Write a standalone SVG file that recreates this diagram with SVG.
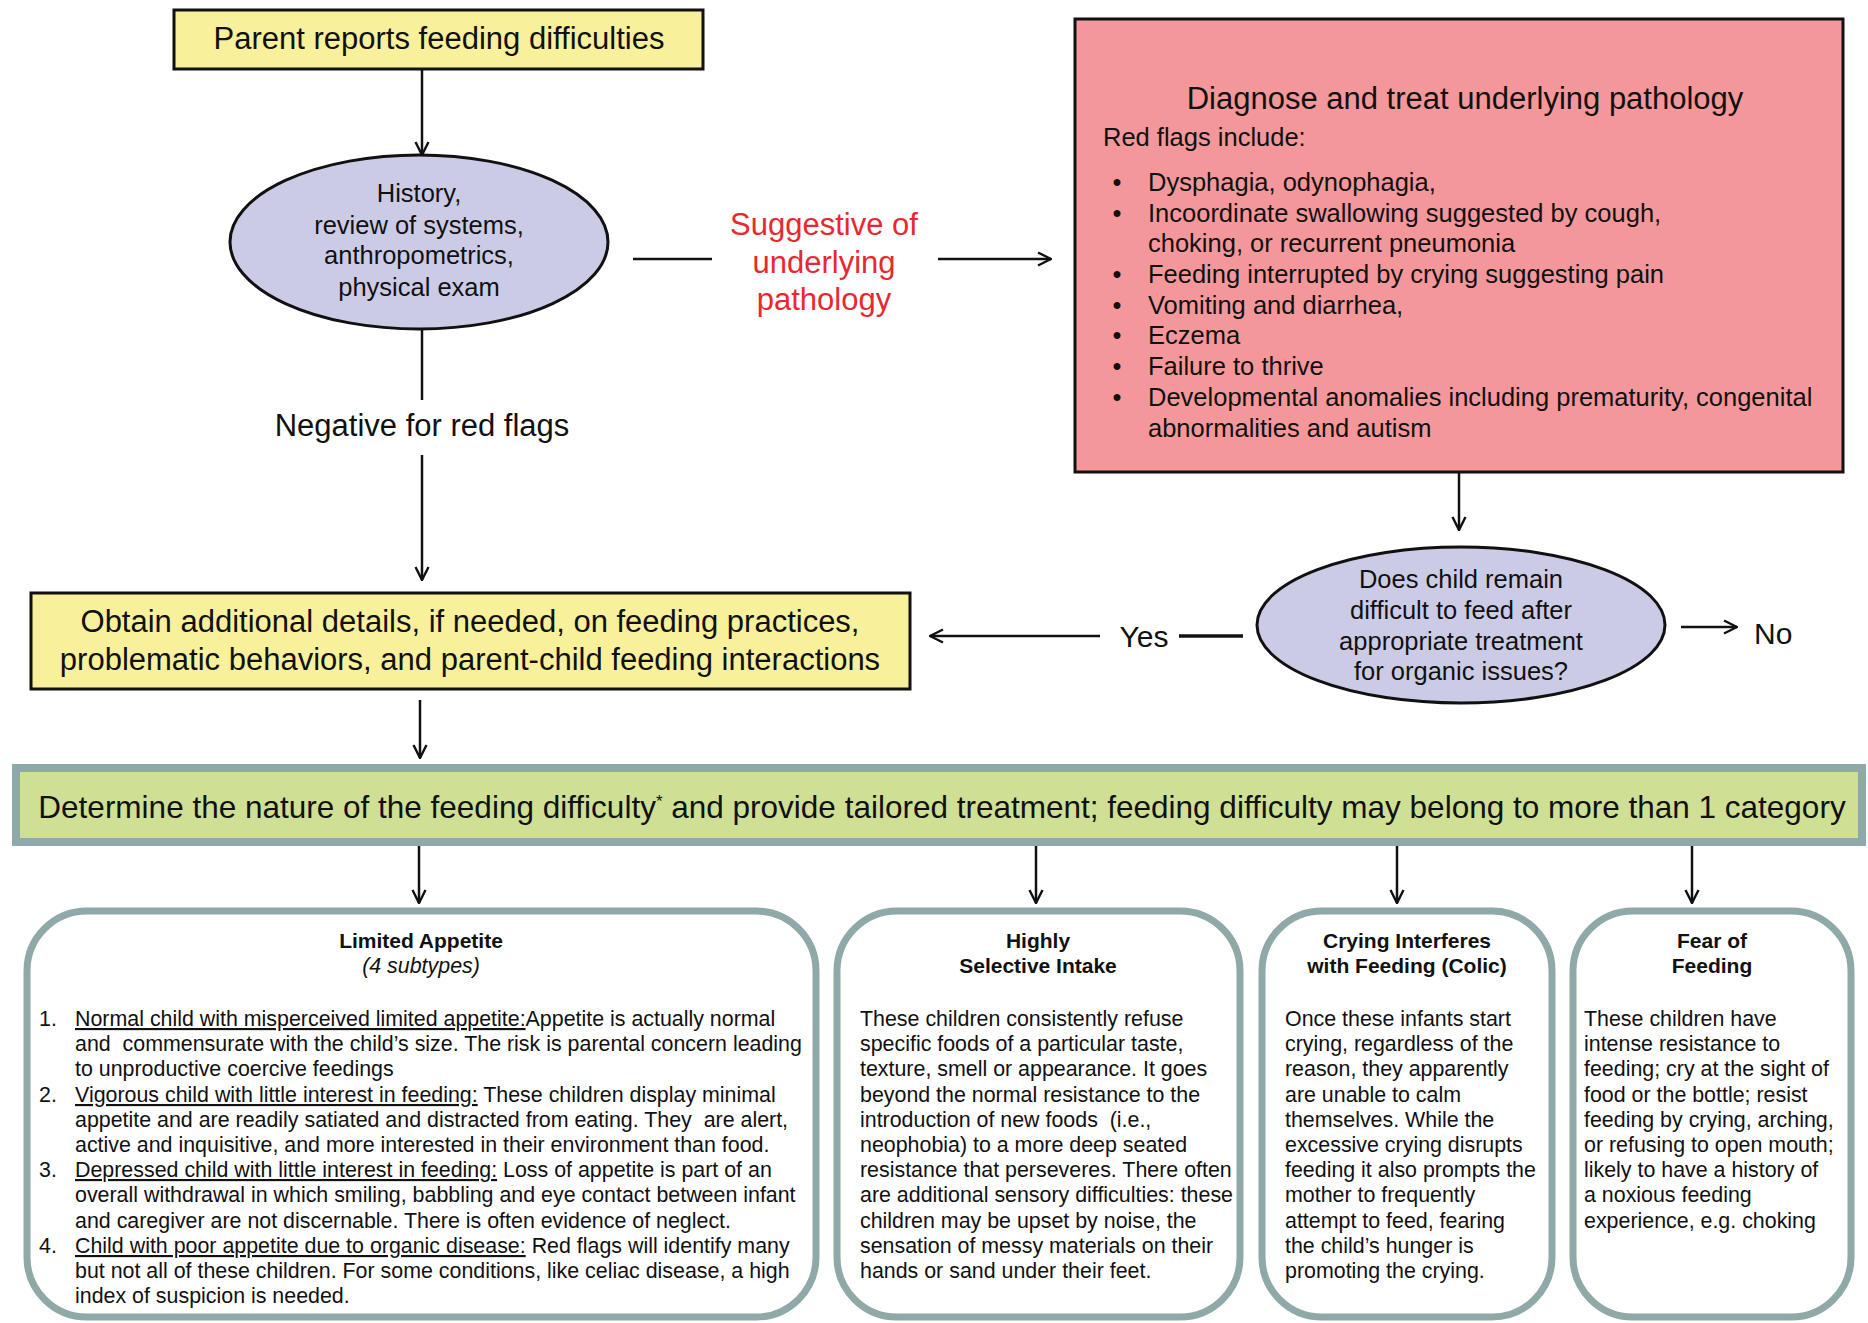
<svg xmlns="http://www.w3.org/2000/svg" width="1868" height="1323" viewBox="0 0 1868 1323">
<style>
text{font-family:"Liberation Sans",Arial,sans-serif;fill:#111;white-space:pre}
.big{font-size:31px}
.mid{font-size:25.5px}
.body{font-size:21.4px}
.ttl{font-size:21px;font-weight:bold}
.c{text-anchor:middle}
.red{fill:#e8282e}
.u{text-decoration:underline}
.yel{fill:#f8f09b;stroke:#111;stroke-width:3}
.lav{fill:#cccbe6;stroke:#111;stroke-width:3}
.cat{fill:#fff;stroke:#8fa8a8;stroke-width:7}
.ln{stroke:#111;stroke-width:2.5;fill:none}
.arw{stroke:#111;stroke-width:2.5;fill:none;marker-end:url(#arr)}
</style>
<defs>
<marker id="arr" viewBox="0 0 16 16" refX="15" refY="8" markerWidth="16" markerHeight="16" markerUnits="userSpaceOnUse" orient="auto">
<path d="M2,1.5 L15,8 L2,14.5" fill="none" stroke="#111" stroke-width="2.4"/>
</marker>
</defs>
<rect width="1868" height="1323" fill="#fff"/>

<g id="connectors">
<line class="arw" x1="422" y1="69" x2="422" y2="155"/>
<line class="ln" x1="422" y1="329" x2="422" y2="400"/>
<line class="arw" x1="422" y1="455" x2="422" y2="580"/>
<line class="ln" x1="633" y1="259" x2="712" y2="259"/>
<line class="arw" x1="938" y1="259" x2="1051" y2="259"/>
<line class="arw" x1="1459" y1="472" x2="1459" y2="530"/>
<line class="ln" x1="1179" y1="636" x2="1243" y2="636" style="stroke-width:3.5"/>
<line class="arw" x1="1100" y1="636" x2="930" y2="636"/>
<line class="arw" x1="1681" y1="627" x2="1737" y2="627"/>
<line class="arw" x1="420" y1="700" x2="420" y2="758"/>
<line class="arw" x1="419" y1="846" x2="419" y2="903"/>
<line class="arw" x1="1036" y1="846" x2="1036" y2="903"/>
<line class="arw" x1="1397" y1="846" x2="1397" y2="903"/>
<line class="arw" x1="1692" y1="846" x2="1692" y2="903"/>
<text class="big c" x="422" y="436">Negative for red flags</text>
<text class="big c red" x="824" y="235">Suggestive of</text>
<text class="big c red" x="824" y="273">underlying</text>
<text class="big c red" x="824" y="310">pathology</text>
<text class="big c" x="1144" y="647" style="font-size:30px">Yes</text>
<text class="big" x="1754" y="644" style="font-size:30px">No</text>
</g>

<g id="parent-reports">
<rect class="yel" x="174" y="10" width="529" height="59"/>
<text class="big c" x="439" y="49">Parent reports feeding difficulties</text>
</g>

<g id="history">
<ellipse class="lav" cx="419" cy="242" rx="189" ry="87"/>
<text class="mid c" x="419" y="202">History,</text>
<text class="mid c" x="419" y="234">review of systems,</text>
<text class="mid c" x="419" y="264">anthropometrics,</text>
<text class="mid c" x="419" y="296">physical exam</text>
</g>

<g id="diagnose">
<rect x="1075" y="19" width="768" height="453" fill="#f4979a" stroke="#111" stroke-width="3"/>
<text class="big c" x="1465" y="109">Diagnose and treat underlying pathology</text>
<text class="mid" x="1103" y="146">Red flags include:</text>
<text class="mid c" x="1117" y="191">•</text><text class="mid" x="1148" y="191">Dysphagia, odynophagia,</text>
<text class="mid c" x="1117" y="222">•</text><text class="mid" x="1148" y="222">Incoordinate swallowing suggested by cough,</text>
<text class="mid" x="1148" y="252">choking, or recurrent pneumonia</text>
<text class="mid c" x="1117" y="283">•</text><text class="mid" x="1148" y="283">Feeding interrupted by crying suggesting pain</text>
<text class="mid c" x="1117" y="314">•</text><text class="mid" x="1148" y="314">Vomiting and diarrhea,</text>
<text class="mid c" x="1117" y="344">•</text><text class="mid" x="1148" y="344">Eczema</text>
<text class="mid c" x="1117" y="375">•</text><text class="mid" x="1148" y="375">Failure to thrive</text>
<text class="mid c" x="1117" y="406">•</text><text class="mid" x="1148" y="406">Developmental anomalies including prematurity, congenital</text>
<text class="mid" x="1148" y="437">abnormalities and autism</text>
</g>

<g id="remain-difficult">
<ellipse class="lav" cx="1461" cy="625" rx="204" ry="78"/>
<text class="mid c" x="1461" y="588">Does child remain</text>
<text class="mid c" x="1461" y="619">difficult to feed after</text>
<text class="mid c" x="1461" y="650">appropriate treatment</text>
<text class="mid c" x="1461" y="680">for organic issues?</text>
</g>

<g id="obtain-details">
<rect class="yel" x="31" y="593" width="879" height="96"/>
<text class="big c" x="470" y="632">Obtain additional details, if needed, on feeding practices,</text>
<text class="big c" x="470" y="670">problematic behaviors, and parent-child feeding interactions</text>
</g>

<g id="determine">
<rect x="16" y="768" width="1846" height="74" fill="#cfe094" stroke="#8fa8a8" stroke-width="8"/>
<text class="big c" x="942" y="818" style="font-size:31.5px">Determine the nature of the feeding difficulty<tspan style="font-size:17px" dy="-11">*</tspan><tspan dy="11"> and provide tailored treatment; feeding difficulty may belong to more than 1 category</tspan></text>
</g>

<g id="limited-appetite">
<rect class="cat" x="27" y="911" width="789" height="406" rx="60"/>
<text class="ttl c" x="421" y="948">Limited Appetite</text>
<text class="body c" x="421" y="973" style="font-style:italic">(4 subtypes)</text>
<text class="body" x="39" y="1026">1.</text>
<text class="body" x="75" y="1026"><tspan class="u">Normal child with misperceived limited appetite:</tspan>Appetite is actually normal</text>
<text class="body" x="75" y="1051">and  commensurate with the child’s size. The risk is parental concern leading</text>
<text class="body" x="75" y="1076">to unproductive coercive feedings</text>
<text class="body" x="39" y="1102">2.</text>
<text class="body" x="75" y="1102"><tspan class="u">Vigorous child with little interest in feeding:</tspan> These children display minimal</text>
<text class="body" x="75" y="1127">appetite and are readily satiated and distracted from eating. They  are alert,</text>
<text class="body" x="75" y="1152">active and inquisitive, and more interested in their environment than food.</text>
<text class="body" x="39" y="1177">3.</text>
<text class="body" x="75" y="1177"><tspan class="u">Depressed child with little interest in feeding:</tspan> Loss of appetite is part of an</text>
<text class="body" x="75" y="1202">overall withdrawal in which smiling, babbling and eye contact between infant</text>
<text class="body" x="75" y="1228">and caregiver are not discernable. There is often evidence of neglect.</text>
<text class="body" x="39" y="1253">4.</text>
<text class="body" x="75" y="1253"><tspan class="u">Child with poor appetite due to organic disease:</tspan> Red flags will identify many</text>
<text class="body" x="75" y="1278">but not all of these children. For some conditions, like celiac disease, a high</text>
<text class="body" x="75" y="1303">index of suspicion is needed.</text>
</g>

<g id="selective-intake">
<rect class="cat" x="837" y="911" width="403" height="406" rx="60"/>
<text class="ttl c" x="1038" y="948">Highly</text>
<text class="ttl c" x="1038" y="973">Selective Intake</text>
<text class="body" x="860" y="1026">These children consistently refuse</text>
<text class="body" x="860" y="1051">specific foods of a particular taste,</text>
<text class="body" x="860" y="1076">texture, smell or appearance. It goes</text>
<text class="body" x="860" y="1102">beyond the normal resistance to the</text>
<text class="body" x="860" y="1127">introduction of new foods  (i.e.,</text>
<text class="body" x="860" y="1152">neophobia) to a more deep seated</text>
<text class="body" x="860" y="1177">resistance that perseveres. There often</text>
<text class="body" x="860" y="1202">are additional sensory difficulties: these</text>
<text class="body" x="860" y="1228">children may be upset by noise, the</text>
<text class="body" x="860" y="1253">sensation of messy materials on their</text>
<text class="body" x="860" y="1278">hands or sand under their feet.</text>
</g>

<g id="crying">
<rect class="cat" x="1262" y="911" width="290" height="406" rx="60"/>
<text class="ttl c" x="1407" y="948">Crying Interferes</text>
<text class="ttl c" x="1407" y="973">with Feeding (Colic)</text>
<text class="body" x="1285" y="1026">Once these infants start</text>
<text class="body" x="1285" y="1051">crying, regardless of the</text>
<text class="body" x="1285" y="1076">reason, they apparently</text>
<text class="body" x="1285" y="1102">are unable to calm</text>
<text class="body" x="1285" y="1127">themselves. While the</text>
<text class="body" x="1285" y="1152">excessive crying disrupts</text>
<text class="body" x="1285" y="1177">feeding it also prompts the</text>
<text class="body" x="1285" y="1202">mother to frequently</text>
<text class="body" x="1285" y="1228">attempt to feed, fearing</text>
<text class="body" x="1285" y="1253">the child’s hunger is</text>
<text class="body" x="1285" y="1278">promoting the crying.</text>
</g>

<g id="fear">
<rect class="cat" x="1573" y="911" width="278" height="406" rx="60"/>
<text class="ttl c" x="1712" y="948">Fear of</text>
<text class="ttl c" x="1712" y="973">Feeding</text>
<text class="body" x="1584" y="1026">These children have</text>
<text class="body" x="1584" y="1051">intense resistance to</text>
<text class="body" x="1584" y="1076">feeding; cry at the sight of</text>
<text class="body" x="1584" y="1102">food or the bottle; resist</text>
<text class="body" x="1584" y="1127">feeding by crying, arching,</text>
<text class="body" x="1584" y="1152">or refusing to open mouth;</text>
<text class="body" x="1584" y="1177">likely to have a history of</text>
<text class="body" x="1584" y="1202">a noxious feeding</text>
<text class="body" x="1584" y="1228">experience, e.g. choking</text>
</g>
</svg>
